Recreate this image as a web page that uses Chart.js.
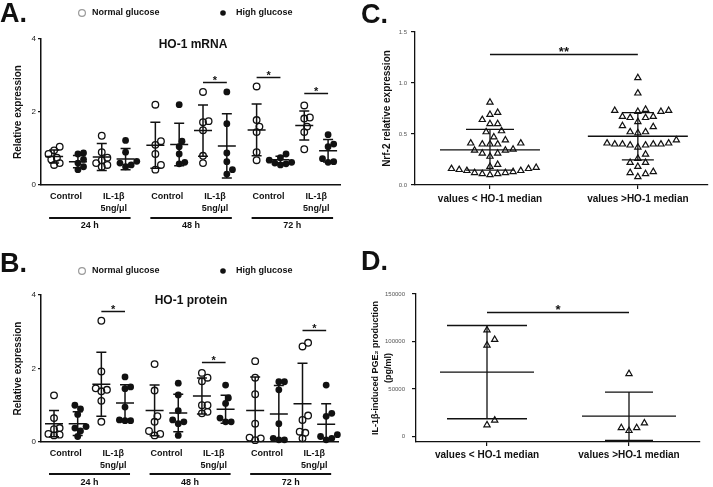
<!DOCTYPE html>
<html>
<head>
<meta charset="utf-8">
<title>HO-1 figure</title>
<script src="https://cdn.jsdelivr.net/npm/chart.js@4.4.1/dist/chart.umd.min.js"></script>
<style>
  body { margin: 0; background: #fff; }
  #fig { position: relative; width: 713px; height: 487px; overflow: hidden; }
  canvas { position: absolute; }
</style>
</head>
<body>
<div id="fig">
  <canvas id="chartA" width="356" height="245" style="left:0;top:0"></canvas>
  <canvas id="chartB" width="356" height="237" style="left:0;top:250px"></canvas>
  <canvas id="chartC" width="353" height="245" style="left:360px;top:0"></canvas>
  <canvas id="chartD" width="353" height="237" style="left:360px;top:250px"></canvas>
</div>
<script>
// ---- shared labels ----
const groupLabels = ['Control', ['IL-1β', '5ng/μl']];
const timeLabels = ['24 h', '48 h', '72 h'];
const medianLabels = ['values < HO-1 median', 'values >HO-1 median'];

// ---- A: HO-1 mRNA ----
// rows: 24h control, 24h IL-1b, 48h control, 48h IL-1b, 72h control, 72h IL-1b
const mrnaNormal = [
  [1.05, 0.95, 0.85, 0.75, 0.70, 0.55, 0.60],
  [1.35, 0.90, 0.68, 0.55, 0.50, 0.60, 0.75],
  [2.20, 1.20, 1.10, 0.85, 0.55, 0.42],
  [2.55, 1.75, 1.72, 1.50, 0.80, 0.60],
  [2.70, 1.78, 1.60, 1.45, 0.90, 0.68],
  [2.18, 1.85, 1.82, 1.60, 1.45, 0.98]
];
const mrnaHigh = [
  [0.88, 0.85, 0.70, 0.60, 0.50, 0.42],
  [1.22, 0.90, 0.65, 0.50, 0.60, 0.55],
  [2.20, 1.20, 1.05, 0.85, 0.62, 0.58],
  [2.55, 1.68, 0.88, 0.64, 0.42, 0.30],
  [0.85, 0.75, 0.68, 0.62, 0.58, 0.55, 0.60],
  [1.38, 1.12, 1.05, 0.72, 0.64, 0.62]
];
const mrnaNormalMean = [0.78, 0.77, 1.09, 1.49, 1.51, 1.63];
const mrnaNormalSd = [0.18, 0.37, 0.63, 0.70, 0.71, 0.40];
const mrnaHighMean = [0.64, 0.71, 1.11, 1.07, 0.69, 0.94];
const mrnaHighSd = [0.17, 0.29, 0.58, 0.88, 0.10, 0.31];
const mrnaSigCols = [[6, 7], [8, 9], [10, 11]];
const mrnaSigY = [2.83, 2.97, 2.51];

// ---- B: HO-1 protein ----
const proteinNormal = [
  [1.27, 0.65, 0.35, 0.20, 0.18, 0.22, 0.38],
  [3.30, 1.92, 1.46, 1.42, 1.38, 1.12, 0.55],
  [2.12, 1.40, 0.70, 0.55, 0.30, 0.22, 0.18],
  [1.88, 1.75, 1.65, 1.00, 1.00, 0.82, 0.78],
  [2.20, 1.75, 1.30, 0.50, 0.12, 0.10, 0.05],
  [2.70, 2.60, 0.72, 0.60, 0.28, 0.25, 0.10]
];
const proteinHigh = [
  [1.00, 0.90, 0.75, 0.42, 0.38, 0.15, 0.30],
  [1.77, 1.50, 1.45, 0.95, 0.60, 0.58, 0.58],
  [1.60, 1.28, 0.85, 0.60, 0.55, 0.50, 0.18],
  [1.55, 1.20, 1.05, 0.65, 0.55, 0.55],
  [1.64, 1.64, 1.42, 0.50, 0.10, 0.06, 0.06],
  [1.55, 0.78, 0.70, 0.15, 0.10, 0.06, 0.20]
];
const proteinNormalMean = [0.50, 1.57, 0.86, 1.25, 0.86, 1.04];
const proteinNormalSd = [0.36, 0.87, 0.69, 0.49, 0.91, 1.10];
const proteinHighMean = [0.50, 1.06, 0.79, 0.89, 0.76, 0.48];
const proteinHighSd = [0.32, 0.50, 0.51, 0.38, 0.78, 0.56];
const proteinSigCols = [[2, 3], [6, 7], [10, 11]];
const proteinSigY = [3.56, 2.18, 3.04];

// ---- C: Nrf-2 relative expression ----
const nrf2Low = [0.81, 0.71, 0.69, 0.64, 0.60, 0.60, 0.53, 0.52, 0.47, 0.44, 0.41, 0.40,
  0.40, 0.40, 0.41, 0.35, 0.34, 0.34, 0.31, 0.31, 0.28, 0.20, 0.18, 0.16, 0.16, 0.17,
  0.15, 0.14, 0.14, 0.13, 0.12, 0.12, 0.11, 0.11, 0.10];
const nrf2High = [1.05, 0.90, 0.74, 0.73, 0.72, 0.72, 0.73, 0.66, 0.66, 0.67, 0.67, 0.62,
  0.58, 0.57, 0.52, 0.52, 0.51, 0.44, 0.41, 0.41, 0.40, 0.40, 0.40, 0.40, 0.39, 0.39,
  0.37, 0.30, 0.26, 0.22, 0.22, 0.18, 0.12, 0.11, 0.13, 0.08];
const nrf2Mean = [0.345, 0.478];
const nrf2Sd = [0.200, 0.232];
const nrf2SigY = 1.28;

// ---- D: IL-1b induced PGE2 (pg/ml) ----
const pgeLow = [112000, 102000, 96000, 17000, 12000];
const pgeHigh = [66000, 14000, 9000, 9000, 6000];
const pgeMean = [67700, 21300];
const pgeSd = [49100, 25400];
const pgeSigY = 131000;
const pgeTicks = [0, 50000, 100000, 150000];

const FONT = '"Liberation Sans", Arial, Helvetica, sans-serif';
Chart.defaults.font.family = FONT;
Chart.defaults.color = '#111';

// columns 0..11, small gap between time points
const colPos = i => i + Math.floor(i / 4) * 0.25;
const pairCenters = [0, 1, 2, 3, 4, 5].map(c => (colPos(2 * c) + colPos(2 * c + 1)) / 2);

function toPoints(groups, offset) {
  const pts = [];
  groups.forEach((vals, c) => vals.forEach(v => pts.push({ x: colPos(2 * c + offset), y: v })));
  return pts;
}
function interleave(a, b) {
  const out = [];
  a.forEach((v, i) => out.push(v, b[i]));
  return out;
}
const pick = (v, i) => Array.isArray(v) ? v[i] : v;

// spread points of a column sideways so they do not overlap (prism style scatter)
const swarmPlugin = {
  id: 'swarm',
  beforeDatasetsDraw(chart, args, opts) {
    const gap = opts.gap, step = gap / 2;
    chart.data.datasets.forEach((ds, di) => {
      const els = chart.getDatasetMeta(di).data;
      els.forEach(el => {
        if (el.$baseX === undefined || el.x !== el.$setX) el.$baseX = el.x;
      });
      const groups = {};
      els.forEach(el => {
        const k = Math.round(el.$baseX);
        (groups[k] = groups[k] || []).push(el);
      });
      Object.values(groups).forEach(list => {
        list.sort((a, b) => b.y - a.y);
        const placed = [];
        list.forEach(el => {
          let off = 0;
          for (let n = 0; n < 80; n++) {
            const k = n === 0 ? 0 : (n % 2 ? (n + 1) / 2 : -n / 2);
            off = k * step;
            if (placed.every(p => (p.dx - off) ** 2 + (p.y - el.y) ** 2 >= gap * gap)) break;
          }
          placed.push({ dx: off, y: el.y });
          el.x = el.$baseX + off;
          el.$setX = el.x;
        });
      });
    });
  }
};

// mean/SD bars, significance bars, titles, legend, panel letter
const extrasPlugin = {
  id: 'extras',
  afterDatasetsDraw(chart, args, o) {
    const { ctx, chartArea: area, scales: { x, y } } = chart;
    ctx.save();
    ctx.strokeStyle = '#111';
    ctx.lineWidth = o.barWidth;
    ctx.beginPath();
    ctx.rect(area.left, area.top - 3, area.width, area.height + 3);
    ctx.clip();
    o.cols.forEach((cx, i) => {
      const px = x.getPixelForValue(cx);
      const m = y.getPixelForValue(o.means[i]);
      const hi = y.getPixelForValue(o.means[i] + o.sds[i]);
      const lo = y.getPixelForValue(o.means[i] - o.sds[i]);
      const mh = pick(o.meanHalf, i), ch = pick(o.capHalf, i);
      ctx.beginPath();
      ctx.moveTo(px, hi); ctx.lineTo(px, lo);
      ctx.moveTo(px - ch, hi); ctx.lineTo(px + ch, hi);
      ctx.moveTo(px - ch, lo); ctx.lineTo(px + ch, lo);
      ctx.moveTo(px - mh, m); ctx.lineTo(px + mh, m);
      ctx.stroke();
    });
    ctx.restore();
  },
  afterDraw(chart, args, o) {
    const { ctx, chartArea: area, scales: { x, y } } = chart;
    ctx.save();
    ctx.strokeStyle = '#111';
    ctx.fillStyle = '#111';
    // significance
    ctx.lineWidth = o.sigWidth;
    ctx.textAlign = 'center';
    ctx.textBaseline = 'alphabetic';
    ctx.font = 'bold ' + o.starSize + 'px ' + FONT;
    o.sigCols.forEach((pair, i) => {
      const x1 = x.getPixelForValue(o.cols[pair[0]]);
      const x2 = x.getPixelForValue(o.cols[pair[1]]);
      const py = Math.round(y.getPixelForValue(o.sigY[i])) + 0.5;
      ctx.beginPath(); ctx.moveTo(x1, py); ctx.lineTo(x2, py); ctx.stroke();
      ctx.fillText(o.sigText[i], (x1 + x2) / 2, py + 1);
    });
    // panel letter
    ctx.textAlign = 'left';
    ctx.font = 'bold 27px ' + FONT;
    ctx.fillText(o.letter.text, o.letter.x, o.letter.y);
    // title
    if (o.title) {
      ctx.textAlign = 'center';
      ctx.textBaseline = 'middle';
      ctx.font = 'bold 12px ' + FONT;
      ctx.fillText(o.title.text, o.title.x, o.title.y);
    }
    // legend
    if (o.legend) {
      const ly = o.legend.y;
      const sets = chart.data.datasets;
      ctx.lineWidth = 1.2;
      ctx.strokeStyle = '#9a9a9a';
      ctx.beginPath(); ctx.arc(82, ly, 3.4, 0, Math.PI * 2); ctx.stroke();
      ctx.beginPath(); ctx.arc(223, ly, 2.8, 0, Math.PI * 2); ctx.fill();
      ctx.font = 'bold 9px ' + FONT;
      ctx.textAlign = 'left';
      ctx.textBaseline = 'middle';
      ctx.fillText(sets[0].label, 92, ly);
      ctx.fillText(sets[1].label, 236, ly);
    }
    // time point underlines
    if (o.times) {
      ctx.lineWidth = 2;
      ctx.strokeStyle = '#111';
      ctx.font = 'bold 9px ' + FONT;
      ctx.textAlign = 'center';
      ctx.textBaseline = 'middle';
      o.times.forEach((t, i) => {
        const x1 = x.getPixelForValue(colPos(4 * i)) - 5;
        const x2 = x.getPixelForValue(colPos(4 * i + 3)) + 5;
        const ly = area.bottom + o.timeLineDy;
        ctx.beginPath(); ctx.moveTo(x1, ly); ctx.lineTo(x2, ly); ctx.stroke();
        ctx.fillText(t, (x1 + x2) / 2, area.bottom + o.timeTextDy);
      });
    }
    ctx.restore();
  }
};

function dotPanel(id, normal, high, nMean, nSd, hMean, hSd, sigCols, sigY, lay) {
  const cols = Array.from({ length: 12 }, (_, i) => colPos(i));
  return new Chart(document.getElementById(id), {
    type: 'scatter',
    data: {
      datasets: [{
        label: 'Normal glucose',
        data: toPoints(normal, 0),
        pointRadius: 3.3,
        pointBorderWidth: 1.3,
        pointBorderColor: '#111',
        pointBackgroundColor: 'rgba(255,255,255,0)',
        clip: false
      }, {
        label: 'High glucose',
        data: toPoints(high, 1),
        pointRadius: 3.4,
        pointBorderWidth: 0,
        pointBorderColor: '#111',
        pointBackgroundColor: '#111',
        clip: false
      }]
    },
    options: {
      responsive: false,
      animation: false,
      events: [],
      layout: { padding: { left: 0, top: lay.top, right: lay.right, bottom: lay.bottom } },
      plugins: {
        legend: { display: false },
        tooltip: { enabled: false },
        swarm: { gap: 5.6 },
        extras: {
          cols: cols,
          means: interleave(nMean, hMean),
          sds: interleave(nSd, hSd),
          meanHalf: 9, capHalf: 5, barWidth: 1.5,
          sigCols: sigCols, sigY: sigY, sigText: sigCols.map(() => '*'),
          sigWidth: 1.5, starSize: 11,
          letter: lay.letter, title: lay.title, legend: { y: lay.legendY },
          times: timeLabels, timeLineDy: lay.timeLineDy, timeTextDy: lay.timeTextDy
        }
      },
      scales: {
        x: {
          type: 'linear', min: -0.55, max: 12,
          afterFit: s => { s.height = 40; },
          afterBuildTicks: s => { s.ticks = pairCenters.map(v => ({ value: v })); },
          grid: { display: true, drawOnChartArea: false, drawTicks: false },
          border: { display: true, color: '#111', width: 1.5 },
          ticks: {
            autoSkip: false, maxRotation: 0, padding: 6, color: '#111',
            font: { size: 9, weight: 'bold', lineHeight: 1.3 },
            callback: (v, i) => groupLabels[i % 2]
          }
        },
        y: {
          min: 0, max: 4,
          afterFit: s => { s.width = 41; },
          ticks: { stepSize: 2, padding: 2, color: '#222', font: { size: 8 } },
          grid: { display: true, drawOnChartArea: false, drawTicks: true, tickLength: 3, color: '#111', lineWidth: 1.2 },
          border: { display: true, color: '#111', width: 1.5 },
          title: {
            display: true, text: 'Relative expression', color: '#111',
            font: { size: 10, weight: 'bold' }, padding: { top: 12, bottom: 0 }
          }
        }
      }
    },
    plugins: [swarmPlugin, extrasPlugin]
  });
}

function trianglePanel(id, low, high, means, sds, sigY, sigText, lay) {
  const pts = low.map(v => ({ x: 0, y: v })).concat(high.map(v => ({ x: 1, y: v })));
  return new Chart(document.getElementById(id), {
    type: 'scatter',
    data: {
      datasets: [{
        label: lay.label,
        data: pts,
        pointStyle: 'triangle',
        pointRadius: 3.6,
        pointBorderWidth: 1.2,
        pointBorderColor: '#111',
        pointBackgroundColor: 'rgba(255,255,255,0)',
        clip: false
      }]
    },
    options: {
      responsive: false,
      animation: false,
      events: [],
      layout: { padding: { left: 0, top: lay.top, right: lay.right, bottom: lay.bottom } },
      plugins: {
        legend: { display: false },
        tooltip: { enabled: false },
        swarm: { gap: 7.7 },
        extras: {
          cols: [0, 1], means: means, sds: sds,
          meanHalf: lay.meanHalf, capHalf: lay.capHalf, barWidth: 1.3,
          sigCols: [[0, 1]], sigY: [sigY], sigText: [sigText],
          sigWidth: 1.3, starSize: 13,
          letter: lay.letter
        }
      },
      scales: {
        x: {
          type: 'linear', min: lay.xMin, max: lay.xMax,
          afterFit: s => { s.height = 30; },
          afterBuildTicks: s => { s.ticks = [{ value: 0 }, { value: 1 }]; },
          grid: { display: true, drawOnChartArea: false, drawTicks: true, tickLength: 4, color: '#111', lineWidth: 1.2 },
          border: { display: true, color: '#111', width: 1.3 },
          ticks: {
            autoSkip: false, maxRotation: 0, padding: lay.xPad, color: '#111',
            font: { size: 10, weight: 'bold' },
            callback: (v, i) => medianLabels[i]
          }
        },
        y: {
          min: lay.yMin, max: lay.yMax,
          afterFit: s => { s.width = lay.left; },
          afterBuildTicks: s => { s.ticks = lay.yTicks.map(v => ({ value: v })); },
          ticks: { padding: lay.yPad, color: '#555', font: { size: 6 }, callback: lay.fmt },
          grid: { display: true, drawOnChartArea: false, drawTicks: true, tickLength: 4, color: '#111', lineWidth: 1.2 },
          border: { display: true, color: '#111', width: 1.3 },
          title: {
            display: true, text: lay.yTitle, color: '#111',
            font: { size: lay.titleSize, weight: 'bold', lineHeight: lay.titleLh },
            padding: { top: lay.titlePad, bottom: 0 }
          }
        }
      }
    },
    plugins: [swarmPlugin, extrasPlugin]
  });
}

dotPanel('chartA', mrnaNormal, mrnaHigh, mrnaNormalMean, mrnaNormalSd, mrnaHighMean, mrnaHighSd,
  mrnaSigCols, mrnaSigY, {
    top: 39, right: 16, bottom: 20,
    letter: { text: 'A.', x: 0, y: 22 },
    title: { text: 'HO-1 mRNA', x: 193, y: 45 },
    legendY: 13, timeLineDy: 33, timeTextDy: 41
  });

dotPanel('chartB', proteinNormal, proteinHigh, proteinNormalMean, proteinNormalSd, proteinHighMean, proteinHighSd,
  proteinSigCols, proteinSigY, {
    top: 45, right: 18, bottom: 5,
    letter: { text: 'B.', x: 0, y: 22 },
    title: { text: 'HO-1 protein', x: 191, y: 51 },
    legendY: 21, timeLineDy: 32, timeTextDy: 41
  });

trianglePanel('chartC', nrf2Low, nrf2High, nrf2Mean, nrf2Sd, nrf2SigY, '**', {
  label: 'Nrf-2', top: 32, right: 5, bottom: 30, left: 55,
  xMin: -0.507, xMax: 1.473, xPad: 4,
  yMin: 0, yMax: 1.5, yTicks: [0, 0.5, 1, 1.5], yPad: 4, fmt: v => v.toFixed(1),
  yTitle: 'Nrf-2 relative expression', titleSize: 10, titleLh: 1.2, titlePad: 21,
  meanHalf: 50, capHalf: [24, 16],
  letter: { text: 'C.', x: 1, y: 23 }
});

trianglePanel('chartD', pgeLow, pgeHigh, pgeMean, pgeSd, pgeSigY, '*', {
  label: 'PGE2', top: 44, right: 13, bottom: 15, left: 56,
  xMin: -0.5, xMax: 1.5, xPad: 3,
  yMin: -5900, yMax: 150000, yTicks: pgeTicks, yPad: 7, fmt: v => String(v),
  yTitle: ['IL-1β-induced PGE₂ production', '(pg/ml)'], titleSize: 9, titleLh: 1.45, titlePad: 8.5,
  meanHalf: 47, capHalf: [40, 24],
  letter: { text: 'D.', x: 1, y: 20 }
});
</script>
</body>
</html>
